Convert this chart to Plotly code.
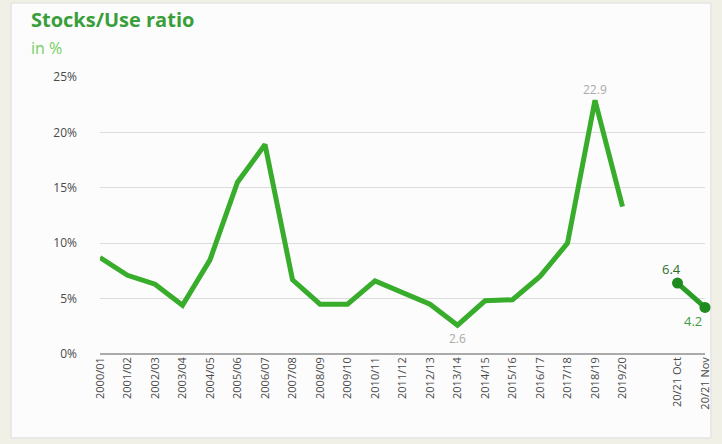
import plotly.graph_objects as go

seasons = ["2000/01", "2001/02", "2002/03", "2003/04", "2004/05", "2005/06", "2006/07",
           "2007/08", "2008/09", "2009/10", "2010/11", "2011/12", "2012/13", "2013/14",
           "2014/15", "2015/16", "2016/17", "2017/18", "2018/19", "2019/20"]
ratio = [8.7, 7.1, 6.3, 4.4, 8.5, 15.5, 18.9, 6.7, 4.5, 4.5, 6.6, 5.5, 4.5, 2.6,
         4.8, 4.9, 7.0, 10.0, 22.9, 13.3]
forecast_cats = ["20/21 Oct", "20/21 Nov"]
forecast_vals = [6.4, 4.2]
gap_cat = " "
all_cats = seasons + [gap_cat] + forecast_cats

line_color = "#38ac2b"
dark_color = "#1f8a1f"

fig = go.Figure()
fig.add_trace(go.Scatter(x=seasons, y=ratio, mode="lines",
                         line=dict(color=line_color, width=5), hoverinfo="x+y",
                         cliponaxis=False))
fig.add_trace(go.Scatter(x=forecast_cats, y=forecast_vals, mode="lines+markers",
                         line=dict(color="#2a9e24", width=5),
                         marker=dict(color=dark_color, size=11), cliponaxis=False))

# data labels
peak_i = ratio.index(max(ratio))
low_i = ratio.index(min(ratio))
fig.add_annotation(x=seasons[peak_i], y=ratio[peak_i], text=f"{ratio[peak_i]:.1f}",
                   showarrow=False, yshift=11, font=dict(size=12, color="#aaaaaa"))
fig.add_annotation(x=seasons[low_i], y=ratio[low_i], text=f"{ratio[low_i]:.1f}",
                   showarrow=False, yshift=-13, font=dict(size=12, color="#aaaaaa"))
fig.add_annotation(x=forecast_cats[0], y=forecast_vals[0], text=f"{forecast_vals[0]:.1f}",
                   showarrow=False, yshift=14, xshift=-6, font=dict(size=13, color="#2d6e2d"))
fig.add_annotation(x=forecast_cats[1], y=forecast_vals[1], text=f"{forecast_vals[1]:.1f}",
                   showarrow=False, yshift=-14, xshift=-12, font=dict(size=13, color="#3f9a3f"))

fig.add_annotation(xref="paper", yref="paper", x=-0.118, y=1.0, xanchor="left", yanchor="bottom",
                   yshift=42, text="<b>Stocks/Use ratio</b>", showarrow=False,
                   font=dict(size=20, color="#3a9e3a", family="Open Sans"))
fig.add_annotation(xref="paper", yref="paper", x=-0.118, y=1.0, xanchor="left", yanchor="bottom",
                   yshift=16, text="in %", showarrow=False,
                   font=dict(size=16, color="#74cf5e", family="Open Sans"))

fig.update_layout(
    width=722, height=444,
    margin=dict(l=100, r=10, t=77, b=90),
    paper_bgcolor="#f1f0e6",
    plot_bgcolor="#fcfcfc",
    showlegend=False,
    font=dict(family="Open Sans", color="#555555"),
    shapes=[dict(type="rect", xref="paper", yref="paper", layer="below",
                 x0=-0.147, x1=1.0098, y0=-0.303, y1=1.267,
                 fillcolor="#fcfcfc", line=dict(color="#dddddd", width=1))],
    xaxis=dict(type="category", categoryorder="array", categoryarray=all_cats,
               range=[0, len(all_cats) - 1], tickangle=-90, showgrid=False,
               tickfont=dict(size=11, color="#4a4a4a"), ticks="",
               showline=False, zeroline=False),
    yaxis=dict(range=[0, 25], dtick=5, ticksuffix="%", gridcolor="#dcdcdc",
               gridwidth=1, zeroline=True, zerolinecolor="#aaaaaa", zerolinewidth=2,
               tickfont=dict(size=12, color="#4a4a4a"), ticklabelstandoff=22),
)

fig.write_html("out.html")
